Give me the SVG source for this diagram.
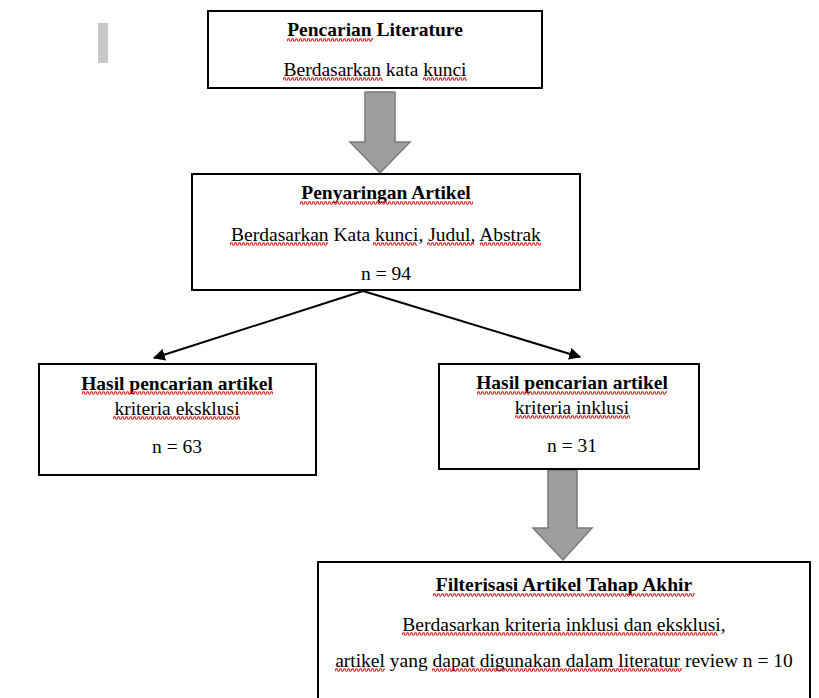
<svg xmlns="http://www.w3.org/2000/svg" width="819" height="698" viewBox="0 0 819 698">
<style>
.box{fill:#fff;stroke:#000;stroke-width:2}
.t{font-family:"Liberation Serif","Times New Roman",serif;font-size:19.5px;fill:#000;text-anchor:middle}
.b{font-weight:bold}
.blk{fill:#9e9e9e;stroke:#7a7a7a;stroke-width:1.5}
.con{stroke:#000;stroke-width:2;fill:none}
.w{fill:url(#wave)}
</style>
<defs>
<pattern id="wave" width="4" height="4" patternUnits="userSpaceOnUse">
<polyline points="0,3.2 1,0.8 2,0.8 3,3.2 4,3.2" fill="none" stroke="#e02020" stroke-width="1.1"/>
</pattern>
<marker id="ah" viewBox="0 0 10 10" refX="9" refY="5" markerWidth="6" markerHeight="6" orient="auto" markerUnits="strokeWidth">
<path d="M0,0 L10,5 L0,10 z" fill="#000"/>
</marker>
</defs>
<rect x="98" y="23" width="10" height="40" fill="#c8c8c8"/>
<g id="connectors">
<path class="blk" d="M365,92 H395 V142 H410 L380,173 L350,142 H365 Z"/>
<path class="blk" d="M548,470 H577 V528 H592 L563,560 L533,528 H548 Z"/>
<line class="con" x1="363" y1="291" x2="154" y2="358" marker-end="url(#ah)"/>
<line class="con" x1="363" y1="291" x2="580" y2="357" marker-end="url(#ah)"/>
</g>
<g id="n1">
<rect class="box" x="208" y="11" width="334" height="77"/>
<text class="t b" x="375" y="36">Pencarian Literature</text>
<text class="t" x="375" y="76">Berdasarkan kata kunci</text>
<g transform="translate(287,38)"><rect class="w" width="86" height="4"/></g>
<g transform="translate(283,77)"><rect class="w" width="100" height="4"/></g>
<g transform="translate(423,77)"><rect class="w" width="44" height="4"/></g>
</g>
<g id="n2">
<rect class="box" x="192" y="174" width="388" height="116"/>
<text class="t b" x="386" y="199">Penyaringan Artikel</text>
<text class="t" x="386" y="241">Berdasarkan Kata kunci, Judul, Abstrak</text>
<text class="t" x="386" y="280">n = 94</text>
<g transform="translate(300,201)"><rect class="w" width="173" height="4"/></g>
<g transform="translate(230,242)"><rect class="w" width="98" height="4"/></g>
<g transform="translate(373,242)"><rect class="w" width="44" height="4"/></g>
<g transform="translate(427,242)"><rect class="w" width="47" height="4"/></g>
<g transform="translate(480,242)"><rect class="w" width="61" height="4"/></g>
</g>
<g id="n3">
<rect class="box" x="39" y="364" width="277" height="111"/>
<text class="t b" x="177" y="390">Hasil pencarian artikel</text>
<text class="t" x="177" y="415">kriteria eksklusi</text>
<text class="t" x="177" y="453">n = 63</text>
<g transform="translate(82,391)"><rect class="w" width="191" height="4"/></g>
<g transform="translate(113,416)"><rect class="w" width="127" height="4"/></g>
</g>
<g id="n4">
<rect class="box" x="439" y="364" width="260" height="105"/>
<text class="t b" x="572" y="389">Hasil pencarian artikel</text>
<text class="t" x="572" y="414">kriteria inklusi</text>
<text class="t" x="572" y="452">n = 31</text>
<g transform="translate(477,391)"><rect class="w" width="190" height="4"/></g>
<g transform="translate(515,415)"><rect class="w" width="115" height="4"/></g>
</g>
<g id="n5">
<rect class="box" x="318" y="562" width="492" height="150"/>
<text class="t b" x="564" y="591">Filterisasi Artikel Tahap Akhir</text>
<text class="t" x="564" y="631">Berdasarkan kriteria inklusi dan eksklusi,</text>
<text class="t" x="564" y="667">artikel yang dapat digunakan dalam literatur review n = 10</text>
<g transform="translate(433,593)"><rect class="w" width="262" height="4"/></g>
<g transform="translate(402,632)"><rect class="w" width="316" height="4"/></g>
<g transform="translate(335,668)"><rect class="w" width="50" height="4"/></g>
<g transform="translate(432,668)"><rect class="w" width="250" height="4"/></g>
</g>
</svg>
